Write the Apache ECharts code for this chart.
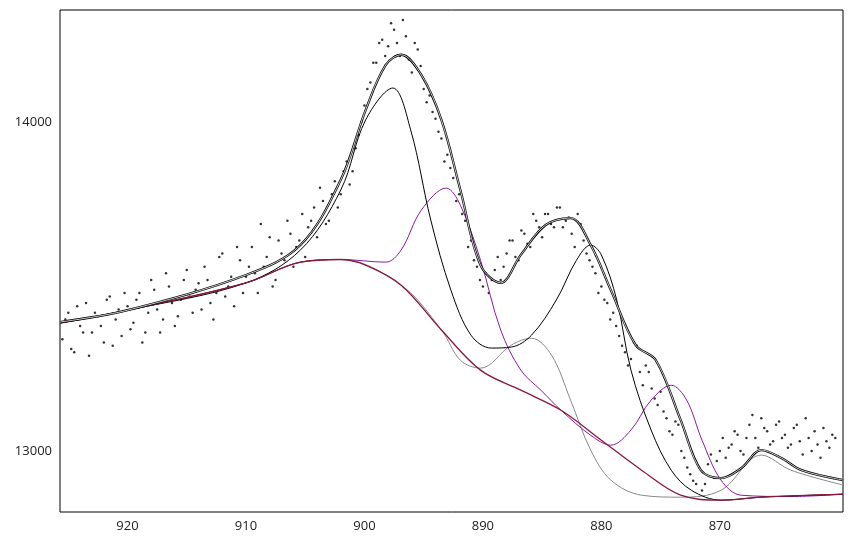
<!DOCTYPE html>
<html><head><meta charset="utf-8">
<script src="https://cdn.jsdelivr.net/npm/echarts@6/dist/echarts.min.js"></script>
<style>html,body{margin:0;background:#fff}#c{width:853px;height:540px}</style>
</head><body><div id="c"></div>
<script>
const xTicks=[920,910,900,890,880,870];
const yTicks=[13000,14000];
const background=[[925.7,13389],[920,13428],[910,13511],[905.4,13574],[902,13582],[899.9,13565],[896.9,13504],[893.5,13368],[890.2,13246],[886.8,13185],[883.4,13124],[880,13033],[876.6,12942],[873.3,12866],[869.9,12851],[866.5,12860],[859.6,12869]];
const envelope=[[925.7,13392],[920,13428],[910,13535],[905.4,13626],[902,13824],[899.9,14036],[898.2,14173],[896.9,14204],[895.2,14143],[893.5,14006],[891.9,13793],[890.2,13565],[888.5,13511],[886.8,13596],[884.7,13687],[882.6,13708],[880.9,13626],[879.2,13489],[877.1,13322],[875.4,13276],[873.3,13094],[871.6,12942],[869.9,12918],[868.2,12948],[866.5,13003],[864.8,12979],[863.1,12942],[859.6,12912]];
const peakA=[[925.7,13389],[920,13428],[910,13511],[905.4,13611],[902,13793],[899.9,14006],[897.6,14103],[896.1,13976],[894.4,13702],[892.7,13489],[891,13352],[889.3,13313],[887.6,13316],[885.9,13352],[883.8,13459],[882.1,13580],[880.9,13626],[880,13596],[878.7,13459],[877.5,13246],[875.8,13064],[874.1,12942],[872.4,12881],[869.9,12851],[866.5,12860],[859.6,12869]];
const peakB=[[925.7,13389],[920,13428],[910,13511],[905.4,13574],[902,13582],[898.2,13574],[896.9,13611],[895.2,13732],[893.1,13799],[891.9,13747],[890.2,13580],[888.5,13368],[886.8,13246],[885.1,13185],[883.4,13124],[880.9,13048],[879.2,13018],[877.5,13064],[875.8,13155],[874.1,13200],[872.8,13155],[871.5,13033],[869.9,12912],[868.2,12866],[864,12862],[859.6,12869]];
const peakC=[[925.7,13389],[920,13428],[910,13511],[905.4,13574],[902,13582],[896.9,13504],[893.5,13368],[891.9,13276],[890.2,13252],[887.6,13322],[885.9,13343],[884.2,13291],[882.6,13155],[880.9,13003],[879.2,12912],[876.6,12866],[873.3,12860],[869.9,12881],[866.5,12988],[864,12942],[859.6,12897]];
const scatterY1=[13340,13420,13300,13380,13450,13360,13410,13330,13470,13400,13350,13440,
13390,13480,13360,13520,13430,13400,13500,13380,13460,13550,
13420,13510,13560,13450,13480,13600,13500,13440,13580,13530,
13620,13480,13560,13650,13520,13600,13700,13560,13640,13590,
13700,13650,13760,13700,13820,13780,13880,13850,13960,14050,
14120,14180,14250,14230,14280,14200,14260,14150,14220,14100,
14080,14010,13950,13900,13830,13780,13700,13640,13560,13500,
13480,13550,13520,13600,13640,13580,13660,13620,13700,13650,
13720,13680,13740,13700,13660,13720,13640,13580,13540,13500,
13450,13420,13350,13300,13280,13320,13200,13240,13160,13180,
13100,13050,13080,12980,12930,12900,12880,12960,12920,13000,
12980,13020,13050,12990,13080,13040,13100,13060,13030,13090,
13050,13020,13080,12990,13040,13060,12980,13030,13050];
const scatterY2=[13400,13310,13440,13360,13290,13420,13380,13460,13320,13430,13480,13370,
13460,13330,13420,13490,13360,13540,13450,13410,13520,13470,
13490,13430,13520,13400,13590,13470,13530,13620,13480,13560,
13540,13690,13590,13500,13640,13580,13660,13620,13720,13680,
13740,13800,13690,13780,13740,13850,13810,13920,14000,14100,
14180,14240,14200,14300,14240,14310,14190,14240,14170,14060,
14030,13970,13880,13860,13760,13720,13620,13580,13520,13540,
13520,13590,13560,13640,13590,13670,13630,13720,13680,13720,
13690,13740,13680,13710,13620,13690,13600,13560,13480,13460,
13400,13380,13320,13260,13330,13240,13260,13190,13140,13120,
13060,13090,13000,12950,12910,12950,12900,12990,12970,13040,
13010,13060,13000,13040,13110,13010,13070,13020,13080,13040,
13010,13070,13030,13100,13000,13020,13070,13010,13040];
const scatter=scatterY1.map((y,i)=>[925.5-i*0.5,y]).concat(scatterY2.map((y,i)=>[925.25-i*0.5,y]));
const line=(d,c,w,z)=>({type:'line',data:d,smooth:0.35,symbol:'none',lineStyle:{color:c,width:w},z:z||2,silent:true});
const chart=echarts.init(document.getElementById('c'));
chart.setOption({animation:false,
grid:{left:60,right:10,top:10,bottom:28,show:true,borderColor:'#000',borderWidth:1},
xAxis:{type:'value',inverse:true,min:859.6,max:925.7,splitLine:{show:false},
 axisLine:{show:false},axisTick:{show:false},
 axisLabel:{color:'#222',fontSize:13,fontFamily:'Open Sans',customValues:xTicks}},
yAxis:{type:'value',min:12815,max:14340,splitLine:{show:false},axisLine:{show:false},axisTick:{show:false},
 axisLabel:{color:'#222',fontSize:13,fontFamily:'Open Sans',customValues:yTicks,formatter:v=>String(v)}},
series:[
 {type:'scatter',data:scatter,symbolSize:2.5,itemStyle:{color:'#000'},z:1,silent:true},
 line(background,'#8b1a3a',1.3,3),
 line(peakC,'#888',1,2),
 line(peakB,'#8a1a9a',1,2),
 line(peakA,'#000',1,2),
 line(envelope,'#000',2.3,4),
 line(envelope,'#fff',0.8,5)
]});
</script></body></html>
